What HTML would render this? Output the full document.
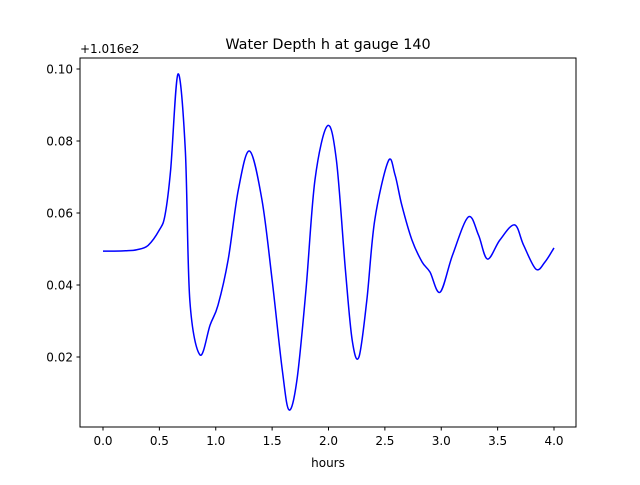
<!DOCTYPE html>
<html><head><meta charset="utf-8"><style>
body{margin:0;background:#fff}
svg text{font-family:"DejaVu Sans","Liberation Sans",sans-serif;font-size:12px;fill:#000}
</style></head><body>
<svg width="640" height="480" viewBox="0 0 640 480">
<rect width="640" height="480" fill="#fff"/>
<g id="plot"></g>
<rect x="80" y="58" width="496" height="369" fill="none" stroke="#000" stroke-width="1"/>
<text x="328" y="49" text-anchor="middle" style="font-size:14.4px">Water Depth h at gauge 140</text>
<text x="328" y="467" text-anchor="middle">hours</text>
<text x="80" y="53">+1.016e2</text>
<g id="ticks"></g>
</svg>
<script>
const times=[0,0.1,0.2,0.3,0.4,0.5,0.55,0.6,0.665,0.73,0.77,0.86,0.95,1.02,1.11,1.2,1.3,1.41,1.5,1.59,1.65,1.72,1.8,1.88,1.99,2.07,2.15,2.21,2.27,2.34,2.41,2.53,2.59,2.65,2.74,2.83,2.9,2.99,3.1,3.24,3.33,3.41,3.52,3.65,3.73,3.84,3.92,4.0];
const depth=[0.0494,0.0494,0.0495,0.0498,0.0510,0.0553,0.0594,0.0720,0.0986,0.0775,0.0358,0.0206,0.0289,0.0344,0.047,0.0664,0.0772,0.0636,0.0414,0.0164,0.0053,0.0136,0.0386,0.0692,0.0842,0.0747,0.0442,0.0247,0.020,0.0358,0.058,0.0744,0.0706,0.0622,0.0525,0.0464,0.0436,0.038,0.0483,0.0589,0.0539,0.0472,0.0525,0.0567,0.0511,0.0444,0.0464,0.0503];
const xTicks=[0,0.5,1,1.5,2,2.5,3,3.5,4];
const xTickLabels=["0.0","0.5","1.0","1.5","2.0","2.5","3.0","3.5","4.0"];
const yTicks=[0.02,0.04,0.06,0.08,0.10];
const yTickLabels=["0.02","0.04","0.06","0.08","0.10"];
const X=t=>103+t*112.75, Y=v=>69+(0.10-v)*3600;
const NS="http://www.w3.org/2000/svg";
const pts=times.map((t,i)=>[X(t),Y(depth[i])]);
let d="M"+pts[0][0]+","+pts[0][1];
for(let i=0;i<pts.length-1;i++){
 const p0=pts[Math.max(i-1,0)],p1=pts[i],p2=pts[i+1],p3=pts[Math.min(i+2,pts.length-1)];
 const c1=[p1[0]+(p2[0]-p0[0])/6,p1[1]+(p2[1]-p0[1])/6],c2=[p2[0]-(p3[0]-p1[0])/6,p2[1]-(p3[1]-p1[1])/6];
 d+=` C${c1[0]},${c1[1]} ${c2[0]},${c2[1]} ${p2[0]},${p2[1]}`;
}
const path=document.createElementNS(NS,"path");


path.setAttribute("d",d);path.setAttribute("fill","none");path.setAttribute("stroke","#0000ff");path.setAttribute("stroke-width","1.5");
document.getElementById("plot").appendChild(path);
const tg=document.getElementById("ticks");
xTicks.forEach((t,i)=>{
 const l=document.createElementNS(NS,"line");
 
 
 l.setAttribute("x1",X(t));l.setAttribute("x2",X(t));l.setAttribute("y1",427);l.setAttribute("y2",430.5);l.setAttribute("stroke","#000");
 tg.appendChild(l);
 const tx=document.createElementNS(NS,"text");
 
 
 tx.setAttribute("x",X(t));tx.setAttribute("y",445);tx.setAttribute("text-anchor","middle");tx.textContent=xTickLabels[i];
 tg.appendChild(tx);
});
yTicks.forEach((v,i)=>{
 const l=document.createElementNS(NS,"line");
 
 
 l.setAttribute("x1",76.5);l.setAttribute("x2",80);l.setAttribute("y1",Y(v));l.setAttribute("y2",Y(v));l.setAttribute("stroke","#000");
 tg.appendChild(l);
 const tx=document.createElementNS(NS,"text");
 
 
 tx.setAttribute("x",73);tx.setAttribute("y",Y(v)+4.5);tx.setAttribute("text-anchor","end");tx.textContent=yTickLabels[i];
 tg.appendChild(tx);
});
</script>
</body></html>
